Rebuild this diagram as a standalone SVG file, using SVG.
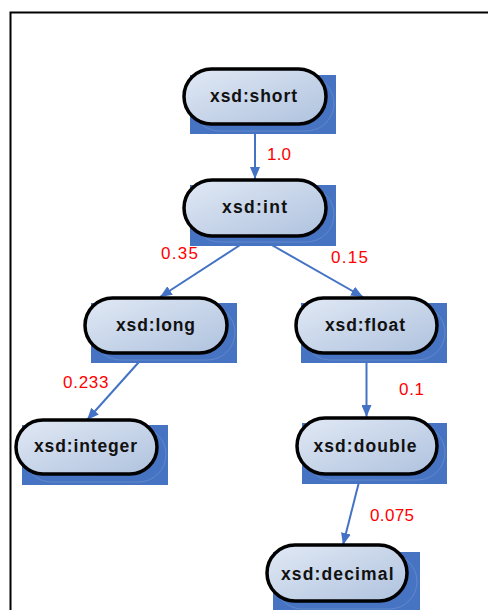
<svg xmlns="http://www.w3.org/2000/svg" width="488" height="610" viewBox="0 0 488 610">
  <defs>
    <linearGradient id="pillFill" x1="0" y1="0" x2="1" y2="1">
      <stop offset="0" stop-color="#e1e9f5"/>
      <stop offset="1" stop-color="#afc2de"/>
    </linearGradient>
    <marker id="arrow" viewBox="0 0 12 10" refX="12" refY="5" markerWidth="12" markerHeight="10" markerUnits="userSpaceOnUse" orient="auto">
      <path d="M0,0 L12,5 L0,10 Z" fill="#4472c4"/>
    </marker>
  </defs>
  <style>
    .shadow { fill: #4774c2; }
    .ghost { fill: none; stroke: #a9bfe3; stroke-opacity: 0.25; stroke-width: 1; }
    .pill { fill: url(#pillFill); stroke: #000; stroke-width: 3.5; }
    .label { font-family: "Liberation Sans", Arial, sans-serif; font-weight: bold; font-size: 17.5px; fill: #111; }
    .weight { font-family: "Liberation Sans", Arial, sans-serif; font-size: 17px; fill: #ff0000; }
    .edge { stroke: #4472c4; stroke-width: 2; fill: none; marker-end: url(#arrow); }
  </style>
  <rect width="488" height="610" fill="#fff"/>
  <path d="M10.5,612 V12.5 H490" fill="none" stroke="#000" stroke-width="2"/>

  <g id="connectors">
    <line class="edge" x1="255" y1="124" x2="255" y2="179"/>
    <line class="edge" x1="254" y1="236" x2="160" y2="297"/>
    <line class="edge" x1="256" y1="236" x2="363" y2="297"/>
    <line class="edge" x1="147" y1="353" x2="87" y2="420"/>
    <line class="edge" x1="366.5" y1="353" x2="366.5" y2="417"/>
    <line class="edge" x1="361" y1="474" x2="343" y2="545"/>
    <text class="weight" x="267" y="160" textLength="24" lengthAdjust="spacing">1.0</text>
    <text class="weight" x="161" y="259" textLength="37" lengthAdjust="spacing">0.35</text>
    <text class="weight" x="331" y="263" textLength="37" lengthAdjust="spacing">0.15</text>
    <text class="weight" x="63" y="388" textLength="45.5" lengthAdjust="spacing">0.233</text>
    <text class="weight" x="399" y="395" textLength="25" lengthAdjust="spacing">0.1</text>
    <text class="weight" x="370" y="521" textLength="44" lengthAdjust="spacing">0.075</text>
  </g>

  <g id="short">
    <rect class="shadow" x="190" y="75" width="146" height="59"/>
    <rect class="ghost" x="192" y="76" width="142" height="55" rx="27.5"/>
    <rect class="pill" x="184" y="69" width="142" height="55" rx="27.5"/>
    <text class="label" x="210" y="102" textLength="87" lengthAdjust="spacing">xsd:short</text>
  </g>
  <g id="int">
    <rect class="shadow" x="190" y="185" width="146" height="61"/>
    <rect class="ghost" x="192" y="187" width="142" height="55" rx="27.5"/>
    <rect class="pill" x="184" y="180" width="142" height="56" rx="28"/>
    <text class="label" x="222" y="213" textLength="65" lengthAdjust="spacing">xsd:int</text>
  </g>
  <g id="long">
    <rect class="shadow" x="91" y="303" width="146" height="60"/>
    <rect class="ghost" x="93" y="305" width="142" height="55" rx="27.5"/>
    <rect class="pill" x="85" y="298" width="142" height="55" rx="27.5"/>
    <text class="label" x="116" y="331" textLength="79" lengthAdjust="spacing">xsd:long</text>
  </g>
  <g id="float">
    <rect class="shadow" x="301" y="303" width="146" height="60"/>
    <rect class="ghost" x="303" y="305" width="142" height="55" rx="27.5"/>
    <rect class="pill" x="296" y="298" width="141" height="55" rx="27.5"/>
    <text class="label" x="325" y="331" textLength="80" lengthAdjust="spacing">xsd:float</text>
  </g>
  <g id="integer">
    <rect class="shadow" x="22" y="425" width="146" height="60"/>
    <rect class="ghost" x="24" y="427" width="142" height="55" rx="27.5"/>
    <rect class="pill" x="16" y="420" width="141" height="54" rx="27"/>
    <text class="label" x="34" y="452" textLength="103" lengthAdjust="spacing">xsd:integer</text>
  </g>
  <g id="double">
    <rect class="shadow" x="302" y="423" width="145" height="61"/>
    <rect class="ghost" x="304" y="425" width="141" height="55" rx="27.5"/>
    <rect class="pill" x="297" y="418" width="140" height="56" rx="28"/>
    <text class="label" x="313.5" y="452" textLength="103" lengthAdjust="spacing">xsd:double</text>
  </g>
  <g id="decimal">
    <rect class="shadow" x="273" y="552" width="147" height="62"/>
    <rect class="ghost" x="275" y="554" width="142" height="55" rx="27.5"/>
    <rect class="pill" x="267" y="545" width="140" height="56" rx="28"/>
    <text class="label" x="281" y="580" textLength="112.5" lengthAdjust="spacing">xsd:decimal</text>
  </g>
</svg>
